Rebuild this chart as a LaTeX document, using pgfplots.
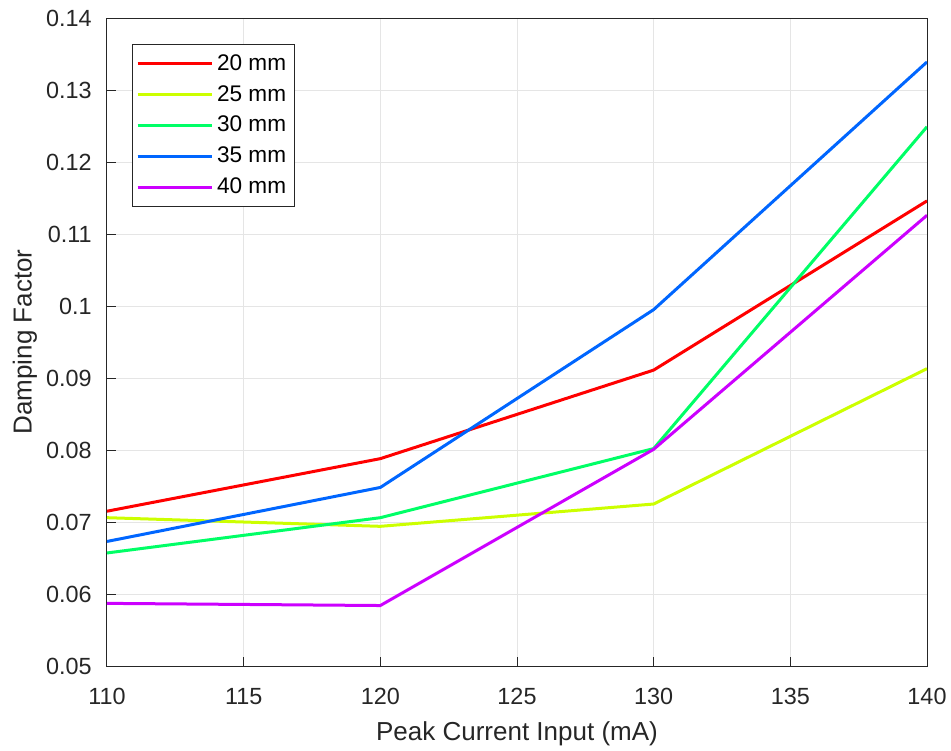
\documentclass[border=0pt]{standalone}
\usepackage{pgfplots}
\pgfplotsset{compat=1.18}
\usepackage{fontspec}
\setmainfont{Liberation Sans}
\definecolor{c1}{rgb}{1,0,0}
\definecolor{c2}{rgb}{0.8,1,0}
\definecolor{c3}{rgb}{0,1,0.4}
\definecolor{c4}{rgb}{0,0.4,1}
\definecolor{c5}{rgb}{0.8,0,1}
\definecolor{axc}{rgb}{0.15,0.15,0.15}
\begin{document}
\begin{tikzpicture}
\useasboundingbox (-53.5pt,-42pt) rectangle (422pt,333pt);
\begin{axis}[
  scale only axis,
  width=410pt, height=324pt,
  xmin=110, xmax=140, ymin=0.05, ymax=0.14,
  xtick={110,115,120,125,130,135,140},
  xticklabels={110,115,120,125,130,135,140},
  ytick={0.05,0.06,0.07,0.08,0.09,0.1,0.11,0.12,0.13,0.14},
  yticklabels={0.05,0.06,0.07,0.08,0.09,0.1,0.11,0.12,0.13,0.14},
  scaled y ticks=false,
  xtick pos=bottom, ytick pos=left,
  tick align=inside,
  major tick length=4.5pt,
  grid=major,
  grid style={color=black!10, line width=0.5pt},
  axis line style={color=axc, line width=0.5pt},
  every tick/.style={color=axc, line width=0.5pt},
  tick label style={font=\fontsize{11.7}{13}\selectfont, color=axc},
  xticklabel style={anchor=base, inner sep=0pt, yshift=-19.15pt},
  yticklabel style={anchor=base east, inner sep=0pt, xshift=-7.5pt, yshift=-4.2pt},
  label style={font=\fontsize{13}{15}\selectfont, color=axc},
  xlabel={Peak Current Input (mA)},
  ylabel={Damping Factor},
  xlabel style={at={(axis description cs:0.5,0)}, anchor=base, inner sep=0pt, yshift=-37.35pt},
  ylabel style={at={(axis description cs:0,0.5)}, anchor=base, inner sep=0pt, yshift=37.65pt},
  legend style={at={(axis description cs:0,1)}, anchor=north west,
    xshift=12.3pt, yshift=-13pt, draw=axc, line width=0.5pt,
    font=\fontsize{11.3}{12}\selectfont, row sep=2pt,
    inner xsep=2pt, inner ysep=3pt},
  legend cell align=left,
  legend image code/.code={\draw[#1,line width=1.5pt] (0pt,0pt) -- (37pt,0pt);},
  every axis plot/.append style={line width=1.5pt},
]
\addplot[c1] coordinates {(110,0.0715) (120,0.0788) (130,0.0911) (140,0.1146)};
\addlegendentry{20 mm}
\addplot[c2] coordinates {(110,0.0706) (120,0.0694) (130,0.0725) (140,0.0913)};
\addlegendentry{25 mm}
\addplot[c3] coordinates {(110,0.0657) (120,0.0706) (130,0.0802) (140,0.1249)};
\addlegendentry{30 mm}
\addplot[c4] coordinates {(110,0.0673) (120,0.0748) (130,0.0995) (140,0.1339)};
\addlegendentry{35 mm}
\addplot[c5] coordinates {(110,0.0587) (120,0.0584) (130,0.0801) (140,0.1126)};
\addlegendentry{40 mm}
\end{axis}
\end{tikzpicture}
\end{document}
